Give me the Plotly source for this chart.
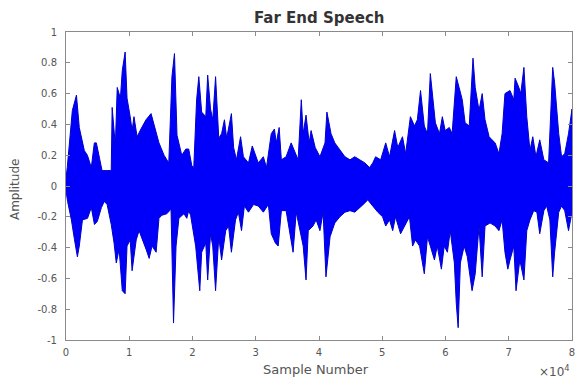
import plotly.graph_objects as go

# Upper envelope of the waveform (sample number, amplitude)
upper_samples = [0, 200, 1000, 1650, 2100, 2900, 3380, 4000, 4480, 4800, 5300, 5700, 7150, 7300, 7800, 8100,
                 8600, 8900, 9350, 9650, 10150, 10450, 10750, 11240, 11850, 12650, 13450, 13900, 14700, 15500,
                 16250, 16750, 17150, 17550, 18300, 18950, 19400, 19900, 20200, 20650, 21000, 21450, 22100,
                 22400, 22850, 23200, 23650, 24150, 24600, 25050, 25400, 26150, 26500, 26950, 27600, 28050,
                 28850, 29450, 30400, 31200, 31700, 32450, 32950, 33250, 33700, 34050, 34800, 35600, 36250,
                 36700, 37200, 37500, 37950, 38450, 38750, 39400, 40150, 40950, 41250, 41900, 42500, 43000,
                 43450, 44100, 44900, 45650, 46450, 47250, 48000, 48500, 48950, 49750, 50550, 51150, 51950,
                 52450, 53200, 53700, 54450, 55100, 55550, 56050, 56650, 57150, 57600, 57950, 58400, 59050,
                 59500, 59950, 60600, 61050, 61700, 62150, 62650, 63100, 63750, 64350, 64700, 65300, 65800,
                 66250, 66900, 67350, 67850, 68450, 68950, 69400, 70200, 70800, 71000, 71600, 71900, 72400,
                 72850, 73350, 73800, 74300, 74900, 75550, 76300, 76950, 77250, 77900, 78350, 78850, 79450,
                 80000]
upper_amp = [0.05, 0.12, 0.49, 0.59, 0.38, 0.23, 0.20, 0.12, 0.28, 0.28, 0.18, 0.10, 0.10, 0.51, 0.26, 0.64,
             0.57, 0.75, 0.87, 0.57, 0.45, 0.36, 0.45, 0.32, 0.37, 0.43, 0.47, 0.40, 0.28, 0.20,
             0.15, 0.71, 0.86, 0.33, 0.20, 0.24, 0.24, 0.13, 0.12, 0.56, 0.71, 0.48, 0.45,
             0.72, 0.50, 0.43, 0.71, 0.31, 0.34, 0.43, 0.31, 0.47, 0.25, 0.17, 0.32, 0.19,
             0.15, 0.26, 0.15, 0.19, 0.12, 0.34, 0.37, 0.28, 0.38, 0.17, 0.19, 0.28, 0.21,
             0.17, 0.56, 0.34, 0.46, 0.28, 0.36, 0.25, 0.19, 0.28, 0.48, 0.34, 0.28, 0.25,
             0.23, 0.19, 0.17, 0.19, 0.17, 0.15, 0.12, 0.15, 0.19, 0.17, 0.28, 0.19, 0.36,
             0.25, 0.32, 0.21, 0.45, 0.39, 0.43, 0.62, 0.39, 0.34, 0.73, 0.60, 0.41, 0.34,
             0.45, 0.36, 0.38, 0.34, 0.71, 0.64, 0.56, 0.41, 0.39, 0.83, 0.64, 0.49, 0.60,
             0.43, 0.32, 0.30, 0.28, 0.21, 0.34, 0.60, 0.62, 0.56, 0.70, 0.64, 0.60, 0.77,
             0.45, 0.23, 0.32, 0.19, 0.30, 0.17, 0.15, 0.77, 0.67, 0.34, 0.19, 0.21, 0.34,
             0.50]

# Lower envelope of the waveform (sample number, amplitude)
lower_samples = [0, 250, 850, 1350, 1800, 2100, 2600, 3400, 4000, 4500, 4950, 5600, 6050, 6500, 7150, 7600,
                 7950, 8400, 8900, 9350, 9650, 10150, 10450, 11100, 11550, 12050, 12650, 13150, 13600, 14250,
                 14700, 15150, 15950, 16600, 17000, 17400, 17850, 18650, 19100, 19400, 19700, 20500, 21150,
                 21450, 22100, 22400, 22850, 23200, 23650, 24150, 24600, 25250, 25700, 26150, 26800, 27250,
                 27750, 28200, 28850, 29650, 30400, 31200, 32000, 32450, 33100, 33550, 34050, 34800, 35450,
                 35900, 36400, 37000, 37500, 37950, 38300, 39050, 39550, 40150, 40650, 41100, 41750, 42500,
                 43300, 44100, 44900, 45650, 46450, 47250, 47700, 48500, 49300, 50050, 50550, 51150, 51650,
                 52100, 52900, 53550, 54300, 54800, 55250, 55900, 56650, 57150, 57600, 58250, 58700, 59350,
                 59800, 60300, 60750, 61400, 61700, 62000, 62350, 62950, 63450, 64200, 64700, 65300, 65800,
                 66250, 67050, 67850, 68450, 68950, 69400, 69850, 70200, 70800, 71150, 71750, 72400, 72850,
                 73350, 73950, 74450, 74900, 75550, 76000, 76500, 76950, 77250, 77900, 78350, 78850, 79450,
                 80000]
lower_amp = [-0.03, -0.10, -0.22, -0.35, -0.46, -0.39, -0.22, -0.21, -0.14, -0.25, -0.23, -0.14, -0.10, -0.12,
             -0.25, -0.37, -0.50, -0.41, -0.68, -0.70, -0.39, -0.35, -0.55, -0.35, -0.29, -0.35, -0.41, -0.47,
             -0.39, -0.43, -0.21, -0.19, -0.18, -0.15, -0.89, -0.39, -0.21, -0.18, -0.21, -0.16, -0.19, -0.39,
             -0.68, -0.43, -0.37, -0.61, -0.31, -0.39, -0.68, -0.33, -0.48, -0.29, -0.26, -0.43, -0.22, -0.17,
             -0.29, -0.13, -0.17, -0.12, -0.13, -0.17, -0.12, -0.31, -0.37, -0.39, -0.16, -0.16, -0.33,
             -0.43, -0.17, -0.29, -0.39, -0.61, -0.29, -0.26, -0.22, -0.29, -0.17, -0.59, -0.33, -0.24,
             -0.20, -0.17, -0.16, -0.17, -0.14, -0.11, -0.09, -0.13, -0.17, -0.20, -0.26, -0.22, -0.29,
             -0.20, -0.31, -0.26, -0.20, -0.39, -0.35, -0.39, -0.57, -0.33, -0.39, -0.48, -0.39, -0.54,
             -0.39, -0.43, -0.29, -0.50, -0.76, -0.92, -0.50, -0.39, -0.46, -0.68, -0.57, -0.26, -0.59,
             -0.26, -0.24, -0.26, -0.29, -0.22, -0.43, -0.54, -0.48, -0.39, -0.68, -0.48, -0.61, -0.29,
             -0.22, -0.16, -0.17, -0.31, -0.16, -0.13, -0.22, -0.59, -0.43, -0.17, -0.13, -0.16, -0.29,
             -0.17]

x_tick_vals = [0, 10000, 20000, 30000, 40000, 50000, 60000, 70000, 80000]
x_tick_text = ["0", "1", "2", "3", "4", "5", "6", "7", "8"]
y_tick_vals = [-1, -0.8, -0.6, -0.4, -0.2, 0, 0.2, 0.4, 0.6, 0.8, 1]
y_tick_text = ["-1", "-0.8", "-0.6", "-0.4", "-0.2", "0", "0.2", "0.4", "0.6", "0.8", "1"]

poly_x = upper_samples + lower_samples[::-1]
poly_y = upper_amp + lower_amp[::-1]

fig = go.Figure()
fig.add_trace(go.Scatter(x=poly_x, y=poly_y, mode="lines", fill="toself",
                         fillcolor="rgb(0,0,250)", line=dict(color="rgb(0,0,205)", width=1),
                         hoverinfo="skip", showlegend=False))

axis_color = "#8a8a8a"
text_color = "#555555"
font_family = "DejaVu Sans, Liberation Sans, Arial, sans-serif"

fig.update_layout(
    width=578, height=379,
    margin=dict(l=66, r=3, t=32, b=39),
    paper_bgcolor="white", plot_bgcolor="white",
    font=dict(family=font_family, size=10, color=text_color),
    showlegend=False,
    annotations=[
        dict(text="<b>Far End Speech</b>", x=0.5, y=1, xref="paper", yref="paper",
             xanchor="center", yanchor="bottom", yshift=3, showarrow=False,
             font=dict(size=15, color="#333333", family=font_family)),
        dict(text="Sample Number", x=0.495, y=0, xref="paper", yref="paper",
             xanchor="center", yanchor="top", yshift=-20, showarrow=False,
             font=dict(size=13, color=text_color, family=font_family)),
        dict(text="Amplitude", x=0, y=0.49, xref="paper", yref="paper", textangle=-90,
             xanchor="right", yanchor="middle", xshift=-42, showarrow=False,
             font=dict(size=12, color=text_color, family=font_family)),
        dict(text="×10<sup>4</sup>", x=1, y=0, xref="paper", yref="paper",
             xanchor="right", yanchor="top", yshift=-21, showarrow=False,
             font=dict(size=12, color=text_color, family=font_family)),
    ],
)
fig.update_xaxes(range=[0, 80000], tickvals=x_tick_vals, ticktext=x_tick_text,
                 showgrid=False, zeroline=False, showline=True, linecolor=axis_color, linewidth=1,
                 mirror="ticks", ticks="inside", ticklen=4, tickcolor=axis_color,
                 ticklabeloverflow="allow", ticklabelstandoff=3,
                 tickfont=dict(size=10, color=text_color))
fig.update_yaxes(range=[-1, 1], tickvals=y_tick_vals, ticktext=y_tick_text,
                 showgrid=False, zeroline=False, showline=True, linecolor=axis_color, linewidth=1,
                 mirror="ticks", ticks="inside", ticklen=4, tickcolor=axis_color,
                 ticklabeloverflow="allow", ticklabelstandoff=6,
                 tickfont=dict(size=10, color=text_color))

fig.write_html("out.html")
